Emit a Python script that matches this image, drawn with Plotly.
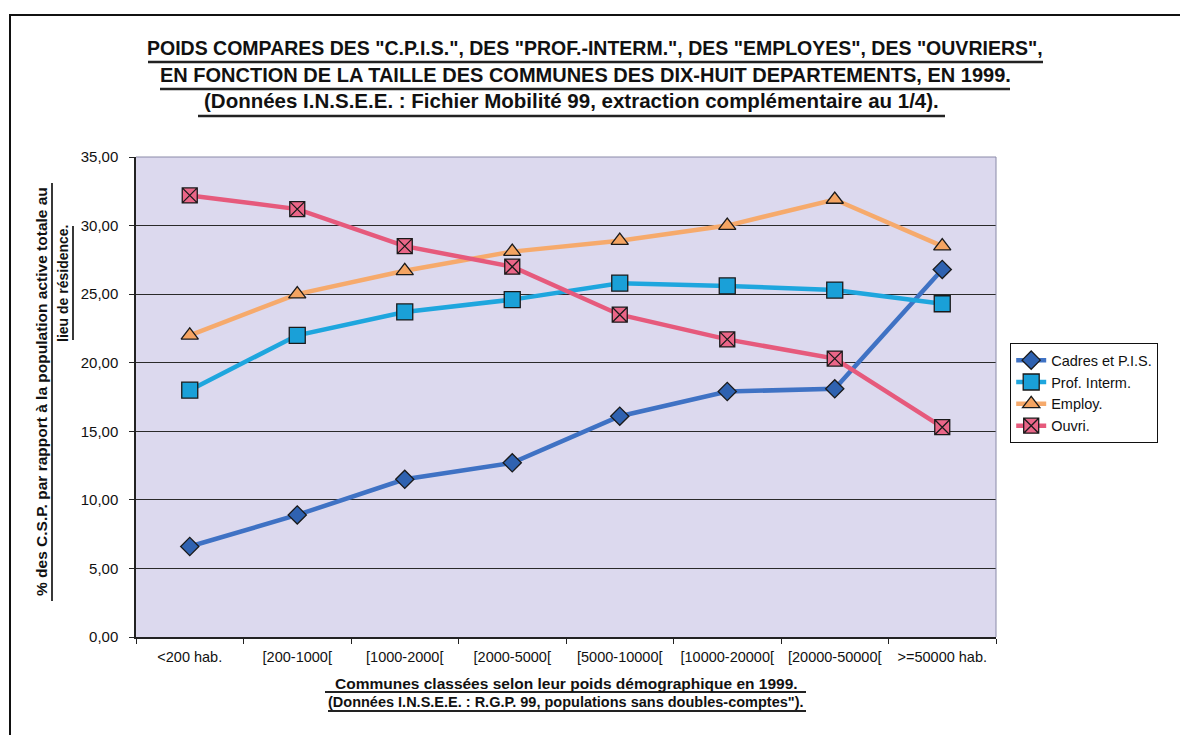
import plotly.graph_objects as go

# Size classes of the communes (x axis)
categories = ["<200 hab.", "[200-1000[", "[1000-2000[", "[2000-5000[",
              "[5000-10000[", "[10000-20000[", "[20000-50000[", ">=50000 hab."]

# Share (%) of each socio-professional category in the resident working population
cadres = [6.6, 8.9, 11.5, 12.7, 16.1, 17.9, 18.1, 26.8]
prof_interm = [18.0, 22.0, 23.7, 24.6, 25.8, 25.6, 25.3, 24.3]
employes = [22.0, 25.0, 26.7, 28.1, 28.9, 30.0, 31.9, 28.5]
ouvriers = [32.2, 31.2, 28.5, 27.0, 23.5, 21.7, 20.3, 15.3]

series_names = ["Cadres et P.I.S.", "Prof. Interm.", "Employ.", "Ouvri."]
y_ticks = [0, 5, 10, 15, 20, 25, 30, 35]

title_lines = [
    'POIDS COMPARES DES "C.P.I.S.", DES "PROF.-INTERM.", DES "EMPLOYES", DES "OUVRIERS",',
    "EN FONCTION DE LA TAILLE DES COMMUNES DES DIX-HUIT DEPARTEMENTS, EN 1999.",
    "(Données I.N.S.E.E. : Fichier Mobilité 99, extraction complémentaire au 1/4).",
]
y_title_lines = [
    "% des C.S.P. par rapport à la population active totale au",
    "lieu de résidence.",
]
x_title_lines = [
    "Communes classées selon leur poids démographique en 1999.",
    '(Données I.N.S.E.E. : R.G.P. 99, populations sans doubles-comptes").',
]

W, H = 1180, 735
ML, MR, MT, MB = 136, 184, 157, 98
PW, PH = W - ML - MR, H - MT - MB


def px(x):
    return (x - ML) / PW


def py(y):
    return (H - MB - y) / PH


FONT = "Liberation Sans, Arial, sans-serif"

fig = go.Figure()

styles = [
    dict(data=cadres, line="#3f72c4", fill="#2f62b0", symbol="diamond", size=14),
    dict(data=prof_interm, line="#1ea6de", fill="#1aa0d8", symbol="square", size=16),
    dict(data=employes, line="#f6aa6c", fill="#f4a462", symbol="triangle-up", size=15),
    dict(data=ouvriers, line="#e65a7c", fill="#ea6688", symbol="square-x", size=15),
]

for name, st in zip(series_names, styles):
    fig.add_trace(go.Scatter(
        x=categories, y=st["data"], name=name, mode="lines+markers",
        line=dict(color=st["line"], width=4.5),
        marker=dict(symbol=st["symbol"], size=st["size"], color=st["fill"],
                    line=dict(color="#1a1a1a", width=1.3)),
    ))

annotations = []
shapes = []

# Main title with underlines
title_y = [48, 75, 101]
title_x = [595, 585, 571]
title_sizes = [19.5, 20, 20.5]
title_ul = [(148, 1043, 62), (160, 1010, 89), (198, 945, 116)]
for txt, xx, yy, fs in zip(title_lines, title_x, title_y, title_sizes):
    annotations.append(dict(text=f"<b>{txt}</b>", x=px(xx), y=py(yy), xref="paper", yref="paper",
                            showarrow=False, xanchor="center", yanchor="middle",
                            font=dict(family=FONT, size=fs, color="#111")))
for x0, x1, yy in title_ul:
    shapes.append(dict(type="line", xref="paper", yref="paper", x0=px(x0), x1=px(x1),
                       y0=py(yy), y1=py(yy), line=dict(color="#222", width=2.5)))

# Rotated y-axis title
annotations.append(dict(text=f"<b>{y_title_lines[0]}</b>", x=px(41), y=py(392), xref="paper", yref="paper",
                        showarrow=False, textangle=-90, xanchor="center", yanchor="middle",
                        font=dict(family=FONT, size=15.5, color="#111")))
annotations.append(dict(text=f"<b>{y_title_lines[1]}</b>", x=px(63), y=py(283), xref="paper", yref="paper",
                        showarrow=False, textangle=-90, xanchor="center", yanchor="middle",
                        font=dict(family=FONT, size=14, color="#111")))
shapes.append(dict(type="line", xref="paper", yref="paper", x0=px(52), x1=px(52),
                   y0=py(183), y1=py(601), line=dict(color="#222", width=1.8)))
shapes.append(dict(type="line", xref="paper", yref="paper", x0=px(73), x1=px(73),
                   y0=py(226), y1=py(340), line=dict(color="#222", width=1.8)))

# X-axis title lines
for txt, yy, fs, (x0, x1, uy) in zip(x_title_lines, [683, 702], [15.5, 14.5],
                                     [(325, 806, 692), (328, 806, 711)]):
    annotations.append(dict(text=f"<b>{txt}</b>", x=px(566), y=py(yy), xref="paper", yref="paper",
                            showarrow=False, xanchor="center", yanchor="middle",
                            font=dict(family=FONT, size=fs, color="#111")))
    shapes.append(dict(type="line", xref="paper", yref="paper", x0=px(x0), x1=px(x1),
                       y0=py(uy), y1=py(uy), line=dict(color="#222", width=1.8)))

# Page frame
shapes.append(dict(type="rect", xref="paper", yref="paper", x0=px(10), x1=px(1195),
                   y0=py(15), y1=py(760), line=dict(color="#111", width=2), layer="below"))
# Plot area border (top and right)
shapes.append(dict(type="line", xref="paper", yref="paper", x0=0, x1=1, y0=1, y1=1,
                   line=dict(color="#8a8aa8", width=1)))
shapes.append(dict(type="line", xref="paper", yref="paper", x0=1, x1=1, y0=0, y1=1,
                   line=dict(color="#8a8aa8", width=1)))

fig.update_layout(
    width=W, height=H,
    margin=dict(l=ML, r=MR, t=MT, b=MB),
    paper_bgcolor="white",
    plot_bgcolor="#dcd9ee",
    separators=", ",
    font=dict(family=FONT, size=12, color="#111"),
    showlegend=True,
    legend=dict(x=px(1010), y=py(343), xanchor="left", yanchor="top",
                bgcolor="white", bordercolor="#111", borderwidth=1.2,
                font=dict(family=FONT, size=14.5, color="#111"),
                itemwidth=30, tracegroupgap=0),
    xaxis=dict(
        type="category", range=[-0.5, len(categories) - 0.5],
        showgrid=False, showline=True, linecolor="#222", linewidth=1.5,
        ticks="outside", tickson="boundaries", ticklen=5, tickcolor="#222",
        tickfont=dict(family=FONT, size=14.5, color="#111"),
        ticklabelstandoff=6,
    ),
    yaxis=dict(
        range=[0, 35], tickvals=y_ticks, tickformat=".2f",
        showgrid=True, gridcolor="#2a2a2a", gridwidth=1,
        showline=True, linecolor="#222", linewidth=1.5,
        ticks="outside", ticklen=5, tickcolor="#222",
        tickfont=dict(family=FONT, size=15, color="#111"),
        ticklabelstandoff=8,
        zeroline=False,
    ),
    annotations=annotations,
    shapes=shapes,
)

fig.write_html("out.html")
